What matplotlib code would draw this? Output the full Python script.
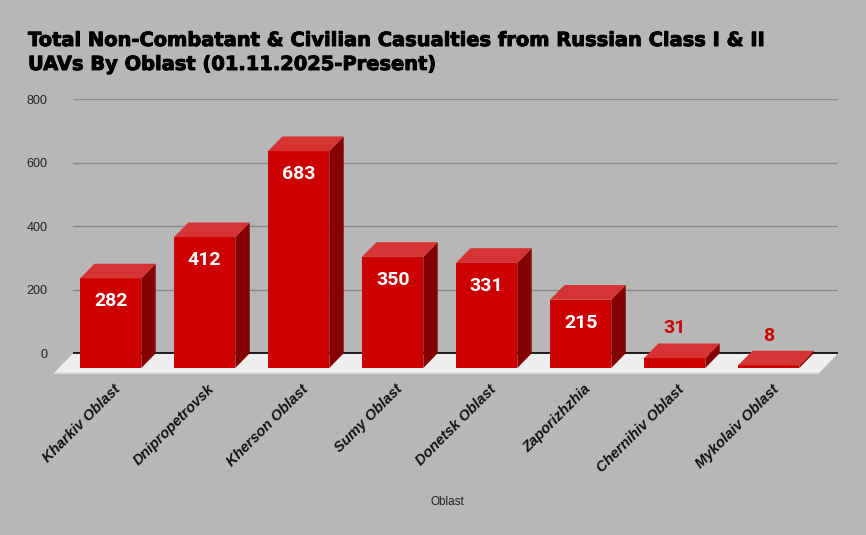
import matplotlib
matplotlib.use("Agg")
import matplotlib.pyplot as plt
from matplotlib.patches import Polygon
import matplotlib.patheffects as pe

categories = ["Kharkiv Oblast", "Dnipropetrovsk", "Kherson Oblast", "Sumy Oblast",
              "Donetsk Oblast", "Zaporizhzhia", "Chernihiv Oblast", "Mykolaiv Oblast"]
values = [282, 412, 683, 350, 331, 215, 31, 8]
yticks = [0, 200, 400, 600, 800]
title_lines = ["Total Non-Combatant & Civilian Casualties from Russian Class I & II",
               "UAVs By Oblast (01.11.2025-Present)"]
xlabel = "Oblast"

W, H = 866, 535
BG = "#b7b7b7"
FRONT = "#cc0000"
TOP = "#d63434"
SIDE = "#850000"

fig = plt.figure(figsize=(W / 100, H / 100), dpi=100, facecolor=BG)
ax = fig.add_axes([73 / W, 1 - 375.5 / H, 765 / W, (375.5 - 99.3) / H])
ax.set_facecolor("none")
x0 = -0.4005
ax.set_xlim(x0, x0 + 765 / 94)
ax.set_ylim(-70, 800)

pxy = 276.2 / 870.0  # px per data unit (y)
pxx = 94.0           # px per category unit
bw = 61.3 / pxx
dx = 14.4 / pxx
dy = 14.7 / pxy
fdx = 19.0 / pxx
fdy = 20.0 / pxy

# gridlines
for t in yticks[1:]:
    ax.axhline(t, color="#8a8a8a", lw=1.0, zorder=1)

# floor
xl, xr = ax.get_xlim()
floor = Polygon([(xl, 0), (xr, 0), (xr - fdx, -fdy), (xl - fdx, -fdy)],
                closed=True, facecolor="#efefef", edgecolor="none", zorder=2, clip_on=False)
ax.add_patch(floor)
ax.plot([xl - fdx, xr - fdx], [-fdy, -fdy], color="#dcdcdc", lw=1.2, zorder=2, clip_on=False,
        solid_capstyle="butt")
ax.axhline(0, color="#000000", lw=1.2, zorder=3)

xs = list(range(len(categories)))
ax.bar(xs, values, width=bw, bottom=-dy, color=FRONT, zorder=5, linewidth=0)
for x, v in zip(xs, values):
    r = x + bw / 2
    l = x - bw / 2
    side = Polygon([(r, -dy), (r + dx, 0), (r + dx, v), (r, v - dy)], closed=True,
                   facecolor=SIDE, edgecolor="none", zorder=5)
    top = Polygon([(l, v - dy), (r, v - dy), (r + dx, v), (l + dx, v)], closed=True,
                  facecolor=TOP, edgecolor="none", zorder=5)
    ax.add_patch(side)
    ax.add_patch(top)
    if v >= 100:
        ax.text(x, v - dy - 23 / pxy, str(v), ha="center", va="center", color="white",
                fontsize=14, fontweight="bold", family="Roboto", zorder=6)
    else:
        ax.text(x, v + 15 / pxy, str(v), ha="center", va="center", color=FRONT,
                fontsize=14, fontweight="bold", family="Roboto", zorder=6)

ax.set_yticks(yticks)
ax.set_yticklabels([str(t) for t in yticks], fontsize=9, color="#222222", family="Liberation Sans")
ax.tick_params(axis="y", length=0, pad=18.5)
ax.set_xticks([])
for s in ax.spines.values():
    s.set_visible(False)

# category labels
for x, c in zip(xs, categories):
    ax.text(x + 0.03, (353.3 - 382) / pxy, c, rotation=45, rotation_mode="anchor",
            ha="right", va="top", fontsize=10.5, fontweight="bold", style="italic",
            family="Liberation Sans", color="#111111", clip_on=False)

fig.text(447 / W, 1 - 505 / H, xlabel, ha="center", va="baseline", fontsize=8.5,
         family="Liberation Sans", color="#222222")

heavy = [pe.withStroke(linewidth=0.7, foreground="black")]
fig.text(28 / W, 1 - 46 / H, title_lines[0], ha="left", va="baseline", fontsize=14.0,
         fontweight="bold", family="DejaVu Sans", color="black", path_effects=heavy)
fig.text(28 / W, 1 - 70 / H, title_lines[1], ha="left", va="baseline", fontsize=14.0,
         fontweight="bold", family="DejaVu Sans", color="black", path_effects=heavy)

fig.savefig("out.png", dpi=100, facecolor=BG)
